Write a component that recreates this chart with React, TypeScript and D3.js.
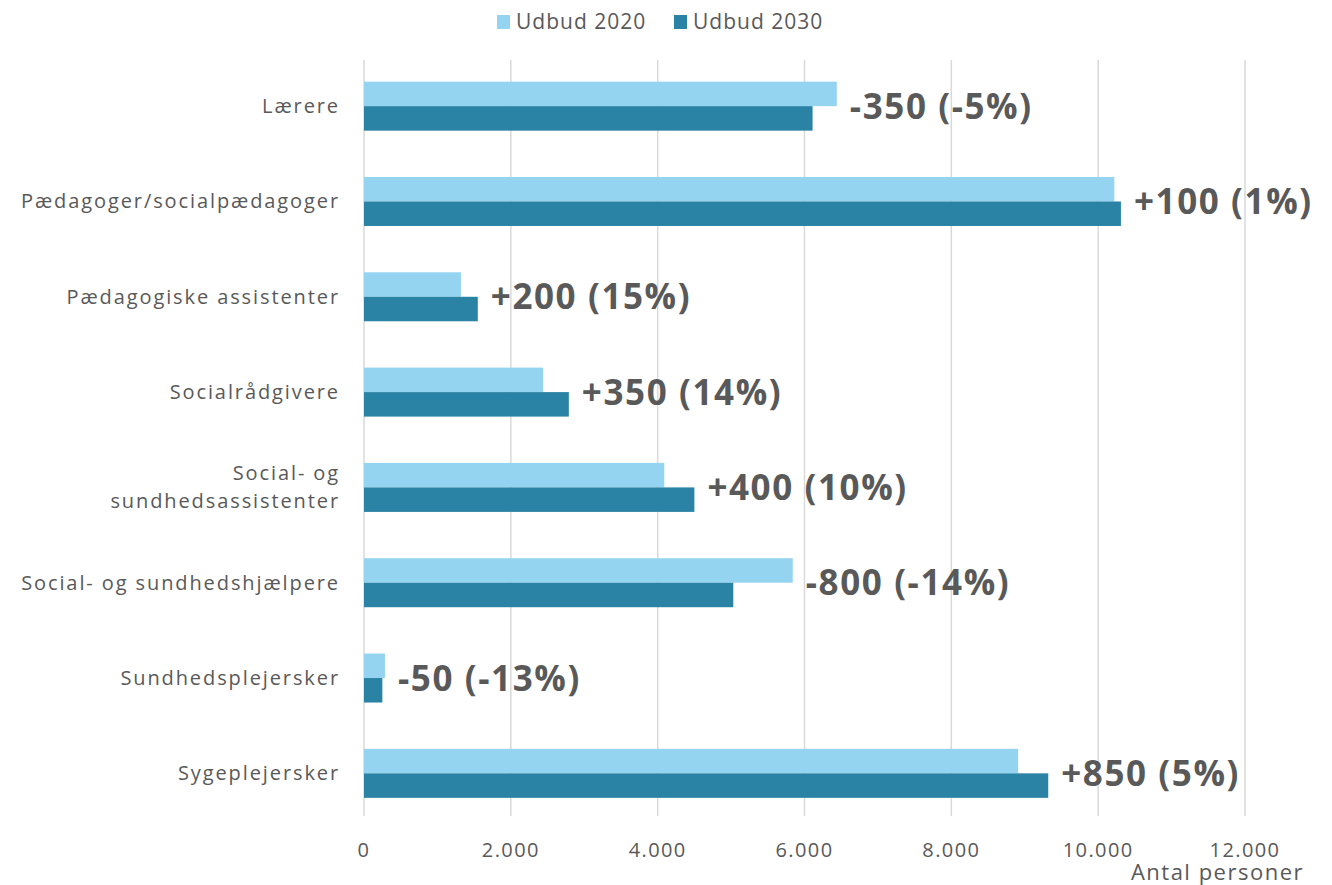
import React from "react";
import * as d3 from "d3";

const categories: string[][] = [
  ["Lærere"],
  ["Pædagoger/socialpædagoger"],
  ["Pædagogiske assistenter"],
  ["Socialrådgivere"],
  ["Social- og", "sundhedsassistenter"],
  ["Social- og sundhedshjælpere"],
  ["Sundhedsplejersker"],
  ["Sygeplejersker"],
];
const udbud2020: number[] = [6440, 10220, 1320, 2440, 4090, 5840, 285, 8910];
const udbud2030: number[] = [6110, 10310, 1550, 2790, 4500, 5030, 250, 9320];
const changeLabels: string[] = [
  "-350 (-5%)",
  "+100 (1%)",
  "+200 (15%)",
  "+350 (14%)",
  "+400 (10%)",
  "-800 (-14%)",
  "-50 (-13%)",
  "+850 (5%)",
];
const xTicks: number[] = [0, 2000, 4000, 6000, 8000, 10000, 12000];
const seriesNames: string[] = ["Udbud 2020", "Udbud 2030"];
const seriesColors: string[] = ["#95D4F0", "#2A83A5"];

const FONT = "'Open Sans', Roboto, sans-serif";
const TEXT = "#595959";

export default function App() {
  const W = 1332;
  const H = 885;
  const left = 364;
  const right = 1245;
  const top = 58.5;
  const bottom = 821;

  const x = d3.scaleLinear().domain([0, 12000]).range([left, right]);
  const y = d3
    .scaleBand<number>()
    .domain(categories.map((_, i) => i))
    .range([top, bottom])
    .paddingInner(0.486)
    .paddingOuter(0.243);
  const sub = d3
    .scaleBand<number>()
    .domain([0, 1])
    .range([0, y.bandwidth()]);

  const fmt = (v: number) => d3.format(",")(v).replace(/,/g, ".");

  return (
    <svg
      width={W}
      height={H}
      style={{ position: "absolute", left: 0, top: 0, background: "#fff" }}
      fontFamily={FONT}
    >
      {xTicks.map((t) => (
        <line
          key={t}
          x1={x(t)}
          x2={x(t)}
          y1={60}
          y2={816}
          stroke="#D9D9D9"
          strokeWidth={1.5}
        />
      ))}
      {categories.map((_, i) => {
        const vals = [udbud2020[i], udbud2030[i]];
        const y0 = y(i)!;
        return (
          <g key={i}>
            {vals.map((v, s) => (
              <rect
                key={s}
                x={x(0)}
                y={y0 + sub(s)!}
                width={x(v) - x(0)}
                height={sub.bandwidth()}
                fill={seriesColors[s]}
              />
            ))}
            <text
              x={x(Math.max(...vals)) + 13}
              y={y0 + y.bandwidth() / 2}
              dy="0.36em"
              fontSize={35}
              fontWeight={700}
              letterSpacing={1.6}
              fill={TEXT}
            >
              {changeLabels[i]}
            </text>
          </g>
        );
      })}
      {categories.map((lines, i) => {
        const cy = y(i)! + y.bandwidth() / 2;
        const lh = 28;
        return (
          <text
            key={i}
            x={340}
            textAnchor="end"
            fontSize={20}
            letterSpacing={1.9}
            fill={TEXT}
          >
            {lines.map((l, k) => (
              <tspan
                key={k}
                x={340}
                y={cy + (k - (lines.length - 1) / 2) * lh}
                dy="0.35em"
              >
                {l}
              </tspan>
            ))}
          </text>
        );
      })}
      {xTicks.map((t) => (
        <text
          key={t}
          x={x(t)}
          y={850}
          dy="0.35em"
          textAnchor="middle"
          fontSize={20}
          letterSpacing={1.4}
          fill={TEXT}
        >
          {fmt(t)}
        </text>
      ))}
      <text x={1304} y={880} textAnchor="end" fontSize={22} letterSpacing={1.5} fill={TEXT}>
        Antal personer
      </text>
      {seriesNames.map((n, s) => {
        const lx = [497, 674][s];
        return (
          <g key={n}>
            <rect x={lx} y={15} width={13} height={14} fill={seriesColors[s]} />
            <text x={lx + 19} y={22} dy="0.35em" fontSize={21} letterSpacing={1} fill={TEXT}>
              {n}
            </text>
          </g>
        );
      })}
    </svg>
  );
}
